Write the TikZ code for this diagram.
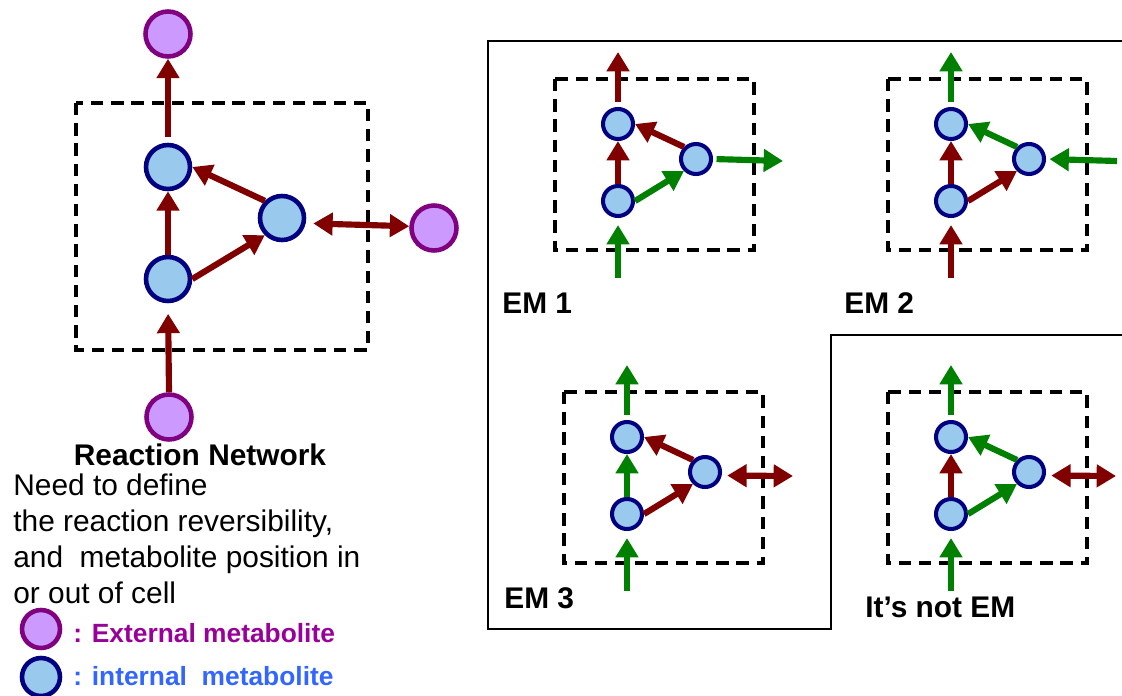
\documentclass[tikz,border=0pt]{standalone}
\usepackage{fontspec}
\setmainfont{Liberation Sans}
\usetikzlibrary{arrows.meta}

\definecolor{rxnred}{HTML}{800000}
\definecolor{rxngreen}{HTML}{008000}
\definecolor{intfill}{HTML}{99C9EC}
\definecolor{intdraw}{HTML}{000080}
\definecolor{extfill}{HTML}{CC99FF}
\definecolor{extdraw}{HTML}{800080}
\definecolor{extlabel}{HTML}{990099}
\definecolor{intlabel}{HTML}{3366FF}

\begin{document}
\begin{tikzpicture}[
  x=0.02cm, y=-0.02cm,
  ext/.style={circle, draw=extdraw, fill=extfill, line width=2.6pt, minimum size=0.9cm, inner sep=0pt},
  int/.style={circle, draw=intdraw, fill=intfill, line width=2.6pt, minimum size=0.88cm, inner sep=0pt},
  intsm/.style={circle, draw=intdraw, fill=intfill, line width=2.3pt, minimum size=0.6cm, inner sep=0pt},
  cell/.style={draw, dash pattern=on 7pt off 4.5pt, line width=2pt},
  flux/.style={line width=3.5pt, -{Triangle[length=11pt,width=12.5pt]}},
  dflux/.style={line width=3.5pt, {Triangle[length=11pt,width=12.5pt]}-{Triangle[length=11pt,width=12.5pt]}},
  lbl/.style={font=\fontsize{17}{20}\selectfont\bfseries, inner sep=0pt},
  note/.style={font=\fontsize{17}{20.6}\selectfont, align=left, inner sep=0pt},
  key/.style={font=\fontsize{15}{18}\selectfont\bfseries, inner sep=0pt}
]
  \useasboundingbox (0,0) rectangle (1122,696);

  % reaction network
  \draw[cell] (76,103) rectangle (368,350);
  \node[ext] (xtop) at (168,34) {};
  \node[int] (mup) at (168,167) {};
  \node[int] (mlow) at (168,279) {};
  \node[int] (mright) at (282,218) {};
  \node[ext] (xright) at (434,228) {};
  \node[ext] (xbot) at (169,417) {};

  \draw[flux, rxnred, shorten <=3pt] (mup.north) -- (xtop.south);
  \draw[flux, rxnred] (mlow.north) -- (mup.south);
  \draw[flux, rxnred] (mlow.east) -- (mright.south west);
  \draw[flux, rxnred] (mright.north west) -- (mup.east);
  \draw[dflux, rxnred, shorten <=4pt] ([yshift=-3pt]mright.east) -- ([yshift=1pt]xright.west);
  \draw[flux, rxnred, shorten >=6pt] (xbot.north) -- (mlow.south);

  \node[lbl, anchor=base] (rn) at (200,465) {Reaction Network};
  \node[note, anchor=north west] (need) at (13,473)
    {Need to define\\the reaction reversibility,\\and~ metabolite position in\\or out of cell};

  % legend
  \node[ext, minimum size=0.76cm] (kext) at (41,629) {};
  \node[int, minimum size=0.76cm] (kint) at (41,677) {};
  \node[key, text=extlabel, anchor=base west] (kextlbl) at (73,642) {: External metabolite};
  \node[key, text=intlabel, anchor=base west] (kintlbl) at (73,685) {: internal~ metabolite};

  % frame round the modes
  \draw[line width=1.6pt] (1122,41) -- (488,41) -- (488,629) -- (831,629) -- (831,335) -- (1122,335);

  % EM 1
  \draw[cell] (555,79) rectangle (754,250);
  \node[intsm] (up1) at (618,124) {};
  \node[intsm] (lo1) at (618,201) {};
  \node[intsm] (ri1) at (696,159) {};
  \coordinate (top1) at (618,52);
  \coordinate (bot1) at (618,278);
  \coordinate (side1) at (783,161);
  \draw[flux, rxnred, shorten <=3pt] (up1.north) -- (top1);
  \draw[flux, rxngreen, shorten >=4pt] (bot1) -- (lo1.south);
  \draw[flux, rxnred] (lo1.north) -- (up1.south);
  \draw[flux, rxnred] (ri1.north west) -- (up1.east);
  \draw[flux, rxngreen] (lo1.east) -- (ri1.south west);
  \draw[flux, rxngreen, shorten <=2pt] (ri1.east) -- (side1);

  % EM 2
  \begin{scope}[shift={(333,0)}]
    \draw[cell] (555,79) rectangle (754,250);
    \node[intsm] (up2) at (618,124) {};
    \node[intsm] (lo2) at (618,201) {};
    \node[intsm] (ri2) at (696,159) {};
    \coordinate (top2) at (618,52);
    \coordinate (bot2) at (618,278);
    \coordinate (side2) at (784,161);
    \draw[flux, rxngreen, shorten <=3pt] (up2.north) -- (top2);
    \draw[flux, rxnred, shorten >=4pt] (bot2) -- (lo2.south);
    \draw[flux, rxnred] (lo2.north) -- (up2.south);
    \draw[flux, rxngreen] (ri2.north west) -- (up2.east);
    \draw[flux, rxnred] (lo2.east) -- (ri2.south west);
    \draw[flux, rxngreen, shorten >=2pt] (side2) -- (ri2.east);
  \end{scope}

  % EM 3
  \begin{scope}[shift={(9,313)}]
    \draw[cell] (555,79) rectangle (754,250);
    \node[intsm] (up3) at (618,124) {};
    \node[intsm] (lo3) at (618,201) {};
    \node[intsm] (ri3) at (696,159) {};
    \coordinate (top3) at (618,52);
    \coordinate (bot3) at (618,278);
    \coordinate (side3) at (784,163);
    \draw[flux, rxngreen, shorten <=3pt] (up3.north) -- (top3);
    \draw[flux, rxngreen, shorten >=4pt] (bot3) -- (lo3.south);
    \draw[flux, rxngreen] (lo3.north) -- (up3.south);
    \draw[flux, rxnred] (ri3.north west) -- (up3.east);
    \draw[flux, rxnred] (lo3.east) -- (ri3.south west);
    \draw[dflux, rxnred, shorten <=3pt] ([yshift=-2pt]ri3.east) -- (side3);
  \end{scope}

  % not an EM
  \begin{scope}[shift={(333,313)}]
    \draw[cell] (555,79) rectangle (754,250);
    \node[intsm] (up4) at (618,124) {};
    \node[intsm] (lo4) at (618,201) {};
    \node[intsm] (ri4) at (696,159) {};
    \coordinate (top4) at (618,52);
    \coordinate (bot4) at (618,278);
    \coordinate (side4) at (783,163);
    \draw[flux, rxngreen, shorten <=3pt] (up4.north) -- (top4);
    \draw[flux, rxngreen, shorten >=4pt] (bot4) -- (lo4.south);
    \draw[flux, rxnred] (lo4.north) -- (up4.south);
    \draw[flux, rxngreen] (ri4.north west) -- (up4.east);
    \draw[flux, rxngreen] (lo4.east) -- (ri4.south west);
    \draw[dflux, rxnred, shorten <=3pt] ([yshift=-2pt]ri4.east) -- (side4);
  \end{scope}

  \node[lbl, anchor=base west] (em1) at (502,313) {EM 1};
  \node[lbl, anchor=base west] (em2) at (844,313) {EM 2};
  \node[lbl, anchor=base west] (em3) at (504,608) {EM 3};
  \node[lbl, anchor=base west] (notem) at (865,617) {It’s not EM};
\end{tikzpicture}
\end{document}
